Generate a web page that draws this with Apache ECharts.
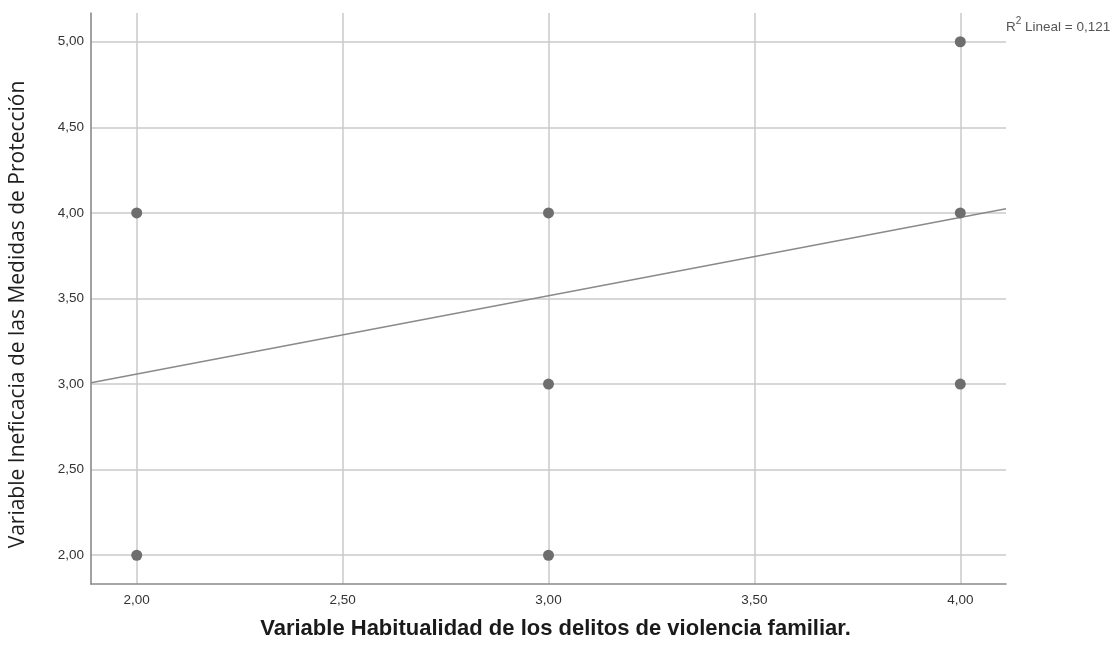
<!DOCTYPE html>
<html>
<head>
<meta charset="utf-8">
<script src="https://cdn.jsdelivr.net/npm/echarts@6/dist/echarts.min.js"></script>
<style>
html,body{margin:0;padding:0;background:#fff;}
#chart{width:1117px;height:648px;}
</style>
</head>
<body>
<div id="chart"></div>
<script>
// Data
const xValues = [2, 2, 3, 3, 3, 4, 4, 4];
const yValues = [4, 2, 4, 3, 2, 5, 4, 3];
// Fit line endpoints (x range of axis)
const fitX = [1.889, 4.111];
const fitY = [3.008, 4.024];
const xTicks = [2.0, 2.5, 3.0, 3.5, 4.0];
const yTicks = [2.0, 2.5, 3.0, 3.5, 4.0, 4.5, 5.0];
const xTitle = 'Variable Habitualidad de los delitos de violencia familiar.';
const yTitle = 'Variable Ineficacia de las Medidas de Protección';
const r2Text = '0,121';

const points = xValues.map((x, i) => [x, yValues[i]]);
const fitLine = fitX.map((x, i) => [x, fitY[i]]);
const fmt = v => v.toFixed(2).replace('.', ',');

const chart = echarts.init(document.getElementById('chart'), null, {renderer: 'canvas'});
chart.setOption({
  animation: false,
  backgroundColor: '#ffffff',
  grid: {left: 91, right: 111, top: 13, bottom: 64, containLabel: false, outerBoundsMode: 'none'},
  xAxis: {
    type: 'value',
    min: 1.889, max: 4.111,
    splitNumber: 5, minInterval: 0.5, maxInterval: 0.5,
    axisLine: {show: true, lineStyle: {color: '#8a8a8a', width: 1.6}},
    axisTick: {show: false},
    axisLabel: {
      showMinLabel: false, showMaxLabel: false,
      formatter: v => xTicks.some(t => Math.abs(t - v) < 1e-6) ? fmt(v) : '',
      color: '#333', fontFamily: 'Liberation Sans, Arial', fontSize: 13.5, margin: 9
    },
    splitLine: {show: true, showMinLine: false, showMaxLine: false, lineStyle: {color: '#cacaca', width: 1.5}},
    name: xTitle, nameLocation: 'middle', nameGap: 34,
    nameTextStyle: {color: '#1a1a1a', fontFamily: 'Liberation Sans, Arial', fontSize: 22, fontWeight: 'bold', padding: [0, 0, 0, 14]}
  },
  yAxis: {
    type: 'value',
    min: 1.832, max: 5.168,
    splitNumber: 6, minInterval: 0.5, maxInterval: 0.5,
    axisLine: {show: true, lineStyle: {color: '#8a8a8a', width: 1.6}},
    axisTick: {show: false},
    axisLabel: {
      showMinLabel: false, showMaxLabel: false,
      formatter: v => yTicks.some(t => Math.abs(t - v) < 1e-6) ? fmt(v) : '',
      color: '#333', fontFamily: 'Liberation Sans, Arial', fontSize: 13.5, margin: 7
    },
    splitLine: {show: true, showMinLine: false, showMaxLine: false, lineStyle: {color: '#cacaca', width: 1.5}},
    name: yTitle, nameLocation: 'middle', nameGap: 62, nameRotate: 90,
    nameTextStyle: {color: '#1e1e1e', fontFamily: 'Open Sans, Noto Sans', fontSize: 21, padding: [0, 32, 0, 0]}
  },
  series: [
    {
      type: 'line',
      data: fitLine,
      symbol: 'none',
      lineStyle: {color: '#8a8a8a', width: 1.4},
      z: 2,
      silent: true
    },
    {
      type: 'scatter',
      data: points,
      symbolSize: 11,
      itemStyle: {color: '#6e6e6e', opacity: 1},
      z: 3
    }
  ],
  graphic: [{
    type: 'text',
    left: 1006, top: 16,
    style: {
      text: '{n|R}{s|2}{n| Lineal = ' + r2Text + '}',
      rich: {
        n: {fontFamily: 'Liberation Sans, Arial', fontSize: 13.5, fill: '#555', verticalAlign: 'bottom', lineHeight: 18},
        s: {fontFamily: 'Liberation Sans, Arial', fontSize: 10, fill: '#555', verticalAlign: 'top', lineHeight: 18, padding: [0, 0, 7, 0]}
      }
    }
  }]
});
</script>
</body>
</html>
